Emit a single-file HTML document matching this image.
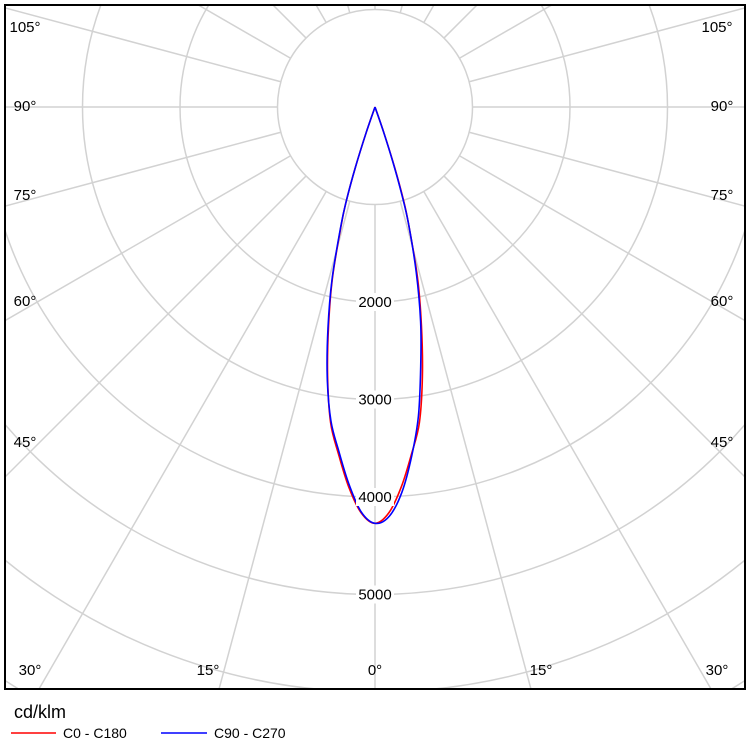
<!DOCTYPE html>
<html><head><meta charset="utf-8"><style>
html,body{margin:0;padding:0;background:#fff;width:750px;height:750px;overflow:hidden}
svg{display:block}
svg text{font-family:"Liberation Sans","DejaVu Sans",sans-serif}
</style></head><body>
<svg id="chart" width="750" height="750" viewBox="0 0 750 750">
<defs><clipPath id="box"><rect x="5" y="5" width="740" height="684"/></clipPath></defs>
<rect x="0" y="0" width="750" height="750" fill="#fff"/>
<g id="grid" clip-path="url(#box)"></g>
<g id="series" clip-path="url(#box)"></g>
<g id="labels"></g>
<rect x="5" y="5" width="740" height="684" fill="none" stroke="#000" stroke-width="2"/>
<text x="14" y="718" font-size="18" fill="#000">cd/klm</text>
<g>
<line x1="11" y1="733" x2="56" y2="733" stroke="#f00" stroke-width="1.5"/>
<text x="63" y="738" font-size="14">C0 - C180</text></g>
<g>
<line x1="161" y1="733" x2="207" y2="733" stroke="#00f" stroke-width="1.5"/>
<text x="214" y="738" font-size="14">C90 - C270</text></g>
</svg>
<script>
const gammas=[0,2,4,6,8,10,12,14,16,17,18,19,20];
const redVals=[4270,4160,3900,3580,3270,2800,2290,1800,1250,1000,650,280,0];
const blueLeftVals=[4270,4150,3870,3550,3250,2820,2320,1820,1270,1000,650,280,0];
const blueRightVals=[4270,4200,3960,3600,3200,2700,2250,1750,1250,950,600,250,0];
const ringVals=[1000,2000,3000,4000,5000,6000,7000,8000];
const ringLabels=["2000","3000","4000","5000"];
const rayAngles=[0,15,30,45,60,75,90,105,120,135,150,165,180];
const angleLabels=[["0°",375,675],["15°",208,675],["30°",30,675],["45°",25,447],["60°",25,306],["75°",25,200],["90°",25,111],["105°",25,32],
["15°",541,675],["30°",717,675],["45°",722,447],["60°",722,306],["75°",722,200],["90°",722,111],["105°",717,32]];
const cx=375,cy=107,scale=97.5/1000;
const NS="http://www.w3.org/2000/svg";
function rad(v){return v*scale;}
function pt(g,v,side){const a=g*Math.PI/180;return [cx+side*rad(v)*Math.sin(a),cy+rad(v)*Math.cos(a)];}
const grid=document.getElementById('grid');
ringVals.forEach(v=>{const c=document.createElementNS(NS,'circle');


c.setAttribute('cx',cx);c.setAttribute('cy',cy);c.setAttribute('r',rad(v));
c.setAttribute('fill','none');c.setAttribute('stroke','#d2d2d2');c.setAttribute('stroke-width','1.5');grid.appendChild(c);});
rayAngles.forEach(g=>{[1,-1].forEach(s=>{if((g===0||g===180)&&s<0)return;
const p1=pt(g,1000,s),p2=pt(g,12000,s);const l=document.createElementNS(NS,'line');


l.setAttribute('x1',p1[0]);l.setAttribute('y1',p1[1]);l.setAttribute('x2',p2[0]);l.setAttribute('y2',p2[1]);
l.setAttribute('stroke','#d2d2d2');l.setAttribute('stroke-width','1.5');grid.appendChild(l);});});
const labels=document.getElementById('labels');
ringLabels.forEach(t=>{const v=+t;const y=cy+rad(v);
const r=document.createElementNS(NS,'rect');


r.setAttribute('x',cx-19);r.setAttribute('y',y-9);r.setAttribute('width',38);r.setAttribute('height',18);r.setAttribute('fill','#fff');labels.appendChild(r);
const tx=document.createElementNS(NS,'text');


tx.setAttribute('x',cx);tx.setAttribute('y',y+5);tx.setAttribute('text-anchor','middle');tx.setAttribute('font-size','15');tx.textContent=t;labels.appendChild(tx);});
angleLabels.forEach(a=>{const tx=document.createElementNS(NS,'text');


tx.setAttribute('x',a[1]);tx.setAttribute('y',a[2]);tx.setAttribute('text-anchor','middle');tx.setAttribute('font-size','15');tx.textContent=a[0];labels.appendChild(tx);});
function smoothPath(pts){let d='M'+pts[0][0]+','+pts[0][1];
for(let i=0;i<pts.length-1;i++){const p0=pts[i-1]||pts[i],p1=pts[i],p2=pts[i+1],p3=pts[i+2]||p2;
const c1=[p1[0]+(p2[0]-p0[0])/6,p1[1]+(p2[1]-p0[1])/6],c2=[p2[0]-(p3[0]-p1[0])/6,p2[1]-(p3[1]-p1[1])/6];
d+=' C'+c1[0]+','+c1[1]+' '+c2[0]+','+c2[1]+' '+p2[0]+','+p2[1];}return d;}
function curve(leftVals,rightVals,color,name){const pts=[];
for(let i=gammas.length-1;i>=0;i--)pts.push(pt(gammas[i],leftVals[i],-1));
for(let i=1;i<gammas.length;i++)pts.push(pt(gammas[i],rightVals[i],1));
const p=document.createElementNS(NS,'path');


p.setAttribute('d',smoothPath(pts));p.setAttribute('fill','none');p.setAttribute('stroke',color);p.setAttribute('stroke-width','1.6');p.setAttribute('stroke-linejoin','round');
document.getElementById('series').appendChild(p);}
curve(redVals,redVals,'#f00','curve-c0-c180');
curve(blueLeftVals,blueRightVals,'#00f','curve-c90-c270');
</script>
</body></html>
